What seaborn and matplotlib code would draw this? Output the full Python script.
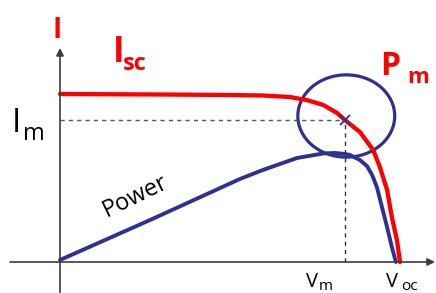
import numpy as np
import pandas as pd
import matplotlib.pyplot as plt
import seaborn as sns
from matplotlib.patches import Ellipse

# ---------------------------------------------------------------------------
# Data (normalised: V / Voc, I / Isc, P / scale)
# ---------------------------------------------------------------------------
iv_voltage = [0.0, 0.300, 0.500, 0.597, 0.676, 0.726, 0.774, 0.815, 0.838,
              0.882, 0.921, 0.941, 0.962, 0.976, 0.991, 1.0]
iv_current = [1.0, 0.997, 0.994, 0.991, 0.982, 0.964, 0.935, 0.887, 0.845,
              0.774, 0.667, 0.565, 0.429, 0.268, 0.131, 0.0]

p_voltage = [0.0, 0.265, 0.529, 0.597, 0.697, 0.774, 0.809, 0.838, 0.853,
             0.882, 0.903, 0.918, 0.932, 0.947, 0.962, 0.976, 0.988]
power = [0.012, 0.250, 0.494, 0.548, 0.619, 0.646, 0.649, 0.643, 0.637,
         0.607, 0.571, 0.518, 0.446, 0.327, 0.208, 0.089, 0.0]

v_mp = 0.838   # Vm
i_mp = 0.845   # Im

RED = '#FF0000'
NAVY = '#2E3192'
AXIS = '#3C3C3C'

iv_df = pd.DataFrame({'V': iv_voltage, 'I': iv_current})
p_df = pd.DataFrame({'V': p_voltage, 'P': power})

# ---------------------------------------------------------------------------
# Plot
# ---------------------------------------------------------------------------
sns.set_style('white')
plt.rcParams['font.family'] = ['Open Sans', 'DejaVu Sans']

fig = plt.figure(figsize=(4.36, 2.93), dpi=100)
ax = fig.add_axes([0, 0, 1, 1])
ax.set_xlim(-0.1765, 1.1059)
ax.set_ylim(-0.1845, 1.5595)
ax.axis('off')

# axes with arrows
ax.annotate('', xy=(0, 1.274), xytext=(0, -0.1845),
            arrowprops=dict(arrowstyle='-|>', color=AXIS, lw=1.2,
                            mutation_scale=11, shrinkA=0, shrinkB=0))
ax.annotate('', xy=(1.103, 0), xytext=(-0.147, 0),
            arrowprops=dict(arrowstyle='-|>', color=AXIS, lw=1.2,
                            mutation_scale=11, shrinkA=0, shrinkB=0))

# dashed guides to the maximum power point
ax.plot([0, v_mp], [i_mp, i_mp], color='#555555', lw=1, ls=(0, (3, 3)))
ax.plot([v_mp, v_mp], [0, i_mp], color='#333333', lw=1, ls=(0, (3, 3)))

# curves
sns.lineplot(data=p_df, x='V', y='P', sort=False, estimator=None,
             color=NAVY, lw=2.8, ax=ax, solid_joinstyle='round')
sns.lineplot(data=iv_df, x='V', y='I', sort=False, estimator=None,
             color=RED, lw=3.1, ax=ax, solid_joinstyle='round')

# maximum power point marker and circle
ax.plot([v_mp], [i_mp], marker='x', color=NAVY, ms=7, mew=1.3)
ax.add_patch(Ellipse((0.842, 0.869), 0.285, 0.49, fill=False,
                     edgecolor=NAVY, lw=2.3))


# labels (figure-pixel positions)
def label(x, y, s, size, color='black', weight='normal', **kw):
    fig.text(x / 436, 1 - y / 293, s, fontsize=size, color=color,
             fontweight=weight, ha='left', va='baseline', **kw)


label(52, 38, 'I', 20, RED, 'bold')
label(113, 62, 'I', 25, RED, 'bold')
label(123, 70, 'sc', 17, RED, 'bold')
label(12, 132, 'I', 24)
label(23, 140, 'm', 17)
label(380, 75, 'P', 23, RED, 'bold')
label(407, 83, 'm', 16, RED, 'bold')
label(306, 287, 'V', 14.5)
label(319, 290, 'm', 11)
label(386, 287, 'V', 14.5)
label(401, 290, 'oc', 11)

fig.text(135 / 436, 1 - 196 / 293, 'Power', fontsize=17, color='black',
         rotation=26, ha='center', va='center', rotation_mode='anchor')

fig.savefig('out.png', dpi=100)
